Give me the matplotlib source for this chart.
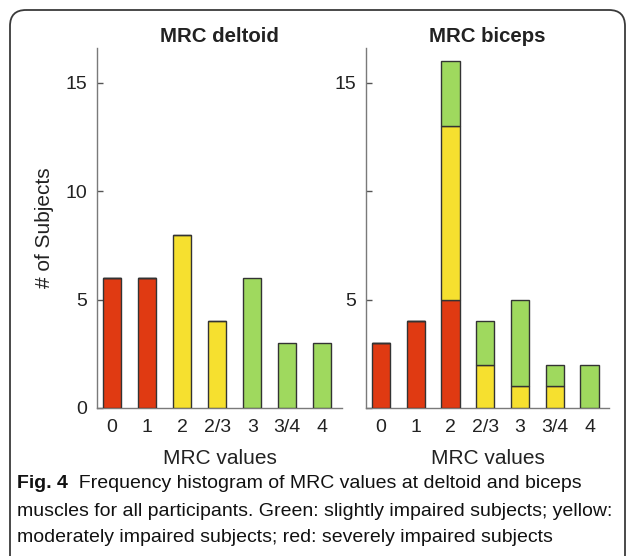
import matplotlib
matplotlib.use("Agg")
import matplotlib.pyplot as plt
from matplotlib.patches import FancyBboxPatch

# data
categorias = ["0", "1", "2", "2/3", "3", "3/4", "4"]

deltoid_red = [6, 6, 0, 0, 0, 0, 0]
deltoid_yellow = [0, 0, 8, 4, 0, 0, 0]
deltoid_green = [0, 0, 0, 0, 6, 3, 3]

biceps_red = [3, 4, 5, 0, 0, 0, 0]
biceps_yellow = [0, 0, 8, 2, 1, 1, 0]
biceps_green = [0, 0, 3, 2, 4, 1, 2]

rojo = "#e03a12"
amarillo = "#f6e02f"
verde = "#9fd95e"

plt.rcParams['font.family'] = ['Liberation Sans', 'DejaVu Sans']

fig = plt.figure(figsize=(6.3, 5.56), dpi=100)

# rounded frame around the figure
fondo = fig.add_axes([0, 0, 1, 1])
fondo.set_xlim(0, 630)
fondo.set_ylim(556, 0)
fondo.axis("off")
marco = FancyBboxPatch((10, 10), 615, 620, boxstyle="round,pad=0,rounding_size=16",
                       fill=False, edgecolor="#3a3a3a", linewidth=1.3, clip_on=False)
fondo.add_patch(marco)


def dibujar_panel(ax, rojos, amarillos, verdes, titulo, etiquetas_y):
    x = list(range(len(categorias)))
    ancho = 0.52
    estilo = dict(width=ancho, edgecolor="#333333", linewidth=1.0, zorder=3)
    base_am = rojos
    base_ve = [r + a for r, a in zip(rojos, amarillos)]
    ax.bar(x, rojos, color=rojo, **estilo)
    ax.bar(x, amarillos, bottom=base_am, color=amarillo, **estilo)
    ax.bar(x, verdes, bottom=base_ve, color=verde, **estilo)
    ax.set_xlim(-0.43, 6.56)
    ax.set_ylim(0, 16.6)
    ax.set_xticks(x)
    ax.set_xticklabels(categorias)
    ax.set_yticks([0, 5, 10, 15])
    ax.set_yticklabels(etiquetas_y)
    for lado in ["top", "right"]:
        ax.spines[lado].set_visible(False)
    for lado in ["left", "bottom"]:
        ax.spines[lado].set_color("#7a7a7a")
        ax.spines[lado].set_linewidth(1.0)
    ax.tick_params(direction="in", length=4, width=1, color="#555555",
                   labelsize=14, labelcolor="#222222", pad=7)
    ax.tick_params(axis="x", pad=8)
    ax.set_title(titulo, fontsize=14.7, fontweight="bold", color="#222222", pad=4)
    ax.set_xlabel("MRC values", fontsize=15, color="#222222", labelpad=9)


ax1 = fig.add_axes([97 / 630, 1 - 408 / 556, 245 / 630, 360 / 556])
dibujar_panel(ax1, deltoid_red, deltoid_yellow, deltoid_green, "MRC deltoid",
              ["0", "5", "10", "15"])
ax1.set_ylabel("# of Subjects", fontsize=15, color="#222222", labelpad=8)

ax2 = fig.add_axes([366 / 630, 1 - 408 / 556, 243 / 630, 360 / 556])
dibujar_panel(ax2, biceps_red, biceps_yellow, biceps_green, "MRC biceps",
              ["", "5", "", "15"])

# caption
fuente = ['Liberation Sans', 'DejaVu Sans']
tam = 14.0
t1 = fondo.text(17, 484, "Fig. 4", fontsize=tam, fontweight="bold",
                family=fuente, va="center", ha="left", color="#111111")
fondo.annotate("  Frequency histogram of MRC values at deltoid and biceps",
               xy=(1, 0), xycoords=t1, va="bottom", ha="left",
               fontsize=tam, family=fuente, color="#111111")
fondo.text(17, 511, "muscles for all participants. Green: slightly impaired subjects; yellow:",
           fontsize=tam, family=fuente, va="center", ha="left", color="#111111")
fondo.text(17, 538, "moderately impaired subjects; red: severely impaired subjects",
           fontsize=tam, family=fuente, va="center", ha="left", color="#111111")

plt.savefig("out.png", dpi=100)
